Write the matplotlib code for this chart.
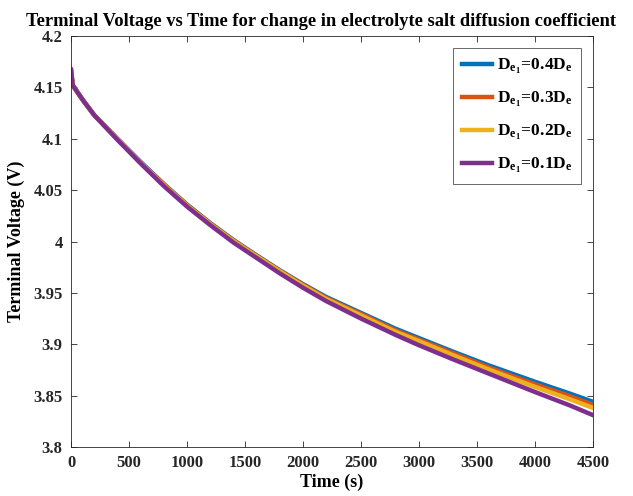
import numpy as np
import matplotlib
matplotlib.use("Agg")
import matplotlib.pyplot as plt

plt.rcParams['font.family'] = ['Liberation Serif', 'DejaVu Serif']
plt.rcParams['font.weight'] = 'bold'
plt.rcParams['mathtext.fontset'] = 'custom'
plt.rcParams['mathtext.rm'] = 'Liberation Serif:bold'
plt.rcParams['mathtext.it'] = 'Liberation Serif:bold'
plt.rcParams['mathtext.bf'] = 'Liberation Serif:bold'

# time samples (s)
time = [0, 15, 100, 200, 400, 600, 800, 1000, 1200, 1400, 1600, 1800, 2000,
        2200, 2500, 2800, 3000, 3300, 3600, 4000, 4300, 4500]

# terminal voltage (V) for each electrolyte diffusion case
v_04 = [4.167, 4.152, 4.138, 4.123, 4.1, 4.0775, 4.056, 4.036, 4.018, 4.0015, 3.9865,
        3.972, 3.9585, 3.946, 3.9305, 3.915, 3.906, 3.8925, 3.8795, 3.8635, 3.852, 3.844]
v_03 = [4.167, 4.152, 4.138, 4.123, 4.1, 4.077, 4.0555, 4.0355, 4.0175, 4.001, 3.986,
        3.9715, 3.958, 3.945, 3.9295, 3.9135, 3.9045, 3.891, 3.8775, 3.861, 3.8495, 3.841]
v_02 = [4.167, 4.152, 4.138, 4.123, 4.0995, 4.0765, 4.055, 4.035, 4.017, 4.0005, 3.9855,
        3.971, 3.957, 3.944, 3.928, 3.912, 3.903, 3.889, 3.8755, 3.8585, 3.8465, 3.838]
v_01 = [4.167, 4.152, 4.138, 4.123, 4.099, 4.076, 4.054, 4.034, 4.016, 3.999, 3.984,
        3.969, 3.955, 3.942, 3.925, 3.909, 3.899, 3.885, 3.8715, 3.8535, 3.8405, 3.831]

labels = [r'$\mathrm{D_{e_1}\!=\!0.4D_e}$', r'$\mathrm{D_{e_1}\!=\!0.3D_e}$',
          r'$\mathrm{D_{e_1}\!=\!0.2D_e}$', r'$\mathrm{D_{e_1}\!=\!0.1D_e}$']
colors = ['#0072BD', '#D95319', '#EDB120', '#7E2F8E']

fig = plt.figure(figsize=(6.33, 4.96), dpi=100)
ax = fig.add_axes([71/633, 49/496, 522/633, 411/496])

for v, lab, c in zip([v_04, v_03, v_02, v_01], labels, colors):
    ax.plot(time, v, color=c, lw=3.2, label=lab, solid_joinstyle='round')

ax.set_xlim(0, 4500)
ax.set_ylim(3.8, 4.2)
ax.set_xticks(np.arange(0, 4501, 500))
yt = np.arange(3.8, 4.2001, 0.05)
ax.set_yticks(yt)
ax.set_yticklabels(['%g' % round(y, 2) for y in yt])
ax.tick_params(direction='in', top=True, right=True, length=4, width=0.6,
               labelsize=12, colors='#262626', pad=6)
for lab in ax.get_xticklabels() + ax.get_yticklabels():
    lab.set_fontweight('bold')
for s in ax.spines.values():
    s.set_color('#262626')
    s.set_linewidth(0.6)

ax.set_xlabel('Time (s)', fontsize=13, fontweight='bold', labelpad=2)
ax.set_ylabel('Terminal Voltage (V)', fontsize=13, fontweight='bold', labelpad=6)
ax.set_title('Terminal Voltage vs Time for change in electrolyte salt diffusion coefficient',
             fontsize=13.3, fontweight='bold', pad=7, x=0.478)

leg = ax.legend(loc='upper right', fontsize=12.5, fancybox=False, edgecolor='#262626',
                handlelength=1.7, labelspacing=0.8, borderaxespad=0.7, handletextpad=0.3,
                borderpad=0.5)
leg.get_frame().set_linewidth(0.6)

fig.savefig('out.png', dpi=100)
